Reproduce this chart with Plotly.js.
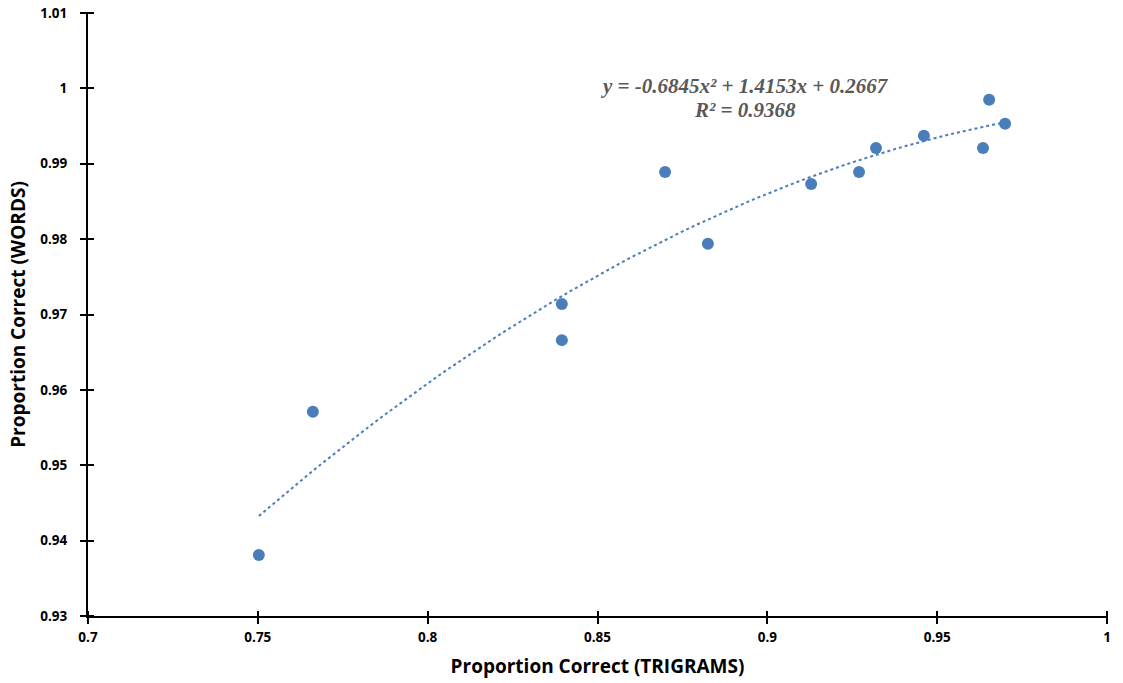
<!DOCTYPE html>
<html>
<head>
<meta charset="utf-8">
<script src="https://cdn.plot.ly/plotly-3.0.1.min.js"></script>
<style>html,body{margin:0;padding:0;background:#fff;}#chart{width:1123px;height:683px;}</style>
</head>
<body>
<div id="chart"></div>
<script>
const trigrams = [0.7503, 0.7662, 0.8395, 0.8395, 0.8699, 0.8825, 0.9129, 0.9270, 0.9320, 0.9461, 0.9635, 0.9653, 0.9700];
const words    = [0.9381, 0.9571, 0.9714, 0.9666, 0.9889, 0.9794, 0.9873, 0.9889, 0.9921, 0.9937, 0.9921, 0.9985, 0.9953];
const trendCoefs = [-0.6845, 1.4153, 0.2667]; // a, b, c from the chart's equation
const equationText = '<i>y = -0.6845x² + 1.4153x + 0.2667</i>';
const r2Text = '<i>R² = 0.9368</i>';
const xTicks = [0.7, 0.75, 0.8, 0.85, 0.9, 0.95, 1];
const xTickLabels = ['0.7', '0.75', '0.8', '0.85', '0.9', '0.95', '1'];
const yTicks = [0.93, 0.94, 0.95, 0.96, 0.97, 0.98, 0.99, 1, 1.01];
const yTickLabels = ['0.93', '0.94', '0.95', '0.96', '0.97', '0.98', '0.99', '1', '1.01'];

// trendline over the observed x range
const xmin = Math.min(...trigrams), xmax = Math.max(...trigrams);
const tx = [], ty = [];
for (let i = 0; i <= 60; i++) {
  const x = xmin + (xmax - xmin) * i / 60;
  tx.push(x);
  ty.push(trendCoefs[0] * x * x + trendCoefs[1] * x + trendCoefs[2]);
}

const color = '#4a7ebb';
const font = '"Open Sans", "DejaVu Sans", sans-serif';

const data = [
  {x: tx, y: ty, type: 'scatter', mode: 'lines', line: {color: color, width: 2, dash: 'dot'}, hoverinfo: 'skip', showlegend: false},
  {x: trigrams, y: words, type: 'scatter', mode: 'markers', marker: {color: color, size: 12}, showlegend: false},
  {x: [0.85], y: [0.97], xaxis: 'x2', yaxis: 'y2', type: 'scatter', mode: 'markers', marker: {opacity: 0}, hoverinfo: 'skip', showlegend: false}
];

const axisCommon = {showgrid: false, zeroline: false, showline: true, linecolor: '#000', linewidth: 2,
  tickcolor: '#000', tickwidth: 2, ticklen: 6, ticks: 'outside'};

const layout = {
  width: 1123, height: 683,
  margin: {l: 88, r: 16, t: 13, b: 67},
  paper_bgcolor: '#fff', plot_bgcolor: 'rgba(0,0,0,0)',
  font: {family: font, color: '#000'},
  xaxis: Object.assign({}, axisCommon, {
    range: [0.7, 1], tickvals: xTicks, ticktext: xTickLabels.map(t => '<b>' + t + '</b>'),
    tickfont: {family: font, size: 13.5, color: '#000'}, ticklabelstandoff: 2,
    title: {text: '<b>Proportion Correct (TRIGRAMS)</b>', font: {family: font, size: 19, color: '#000'}, standoff: 14}
  }),
  yaxis: Object.assign({}, axisCommon, {
    range: [0.93, 1.01], tickvals: yTicks, ticktext: yTickLabels.map(t => '<b>' + t + '</b>'),
    tickfont: {family: font, size: 13.5, color: '#000'}, ticklabelstandoff: 10,
    title: {text: '<b>Proportion Correct (WORDS)</b>', font: {family: font, size: 19, color: '#000'}, standoff: 10}
  }),
  // helper axes offset by ~6px so their outside ticks cross the main axis lines
  xaxis2: {overlaying: 'x', anchor: 'free', position: 6 / 603, side: 'bottom', range: [0.7, 1], tickvals: xTicks,
    showticklabels: false, ticks: 'outside', ticklen: 12, tickwidth: 2, tickcolor: '#000',
    showgrid: false, zeroline: false, showline: false},
  yaxis2: {overlaying: 'y', anchor: 'free', position: 6 / 1019, side: 'left', range: [0.93, 1.01], tickvals: yTicks,
    showticklabels: false, ticks: 'outside', ticklen: 12, tickwidth: 2, tickcolor: '#000',
    showgrid: false, zeroline: false, showline: false},
  annotations: [
    {x: 0.8934, y: 1.0003, xref: 'x', yref: 'y', text: '<b>' + equationText + '</b>', showarrow: false,
     font: {family: '"Liberation Serif", "Times New Roman", serif', size: 21, color: '#595959'}},
    {x: 0.8934, y: 0.9971, xref: 'x', yref: 'y', text: '<b>' + r2Text + '</b>', showarrow: false,
     font: {family: '"Liberation Serif", "Times New Roman", serif', size: 21, color: '#595959'}}
  ]
};

Plotly.newPlot('chart', data, layout, {displayModeBar: false, staticPlot: true});
</script>
</body>
</html>
